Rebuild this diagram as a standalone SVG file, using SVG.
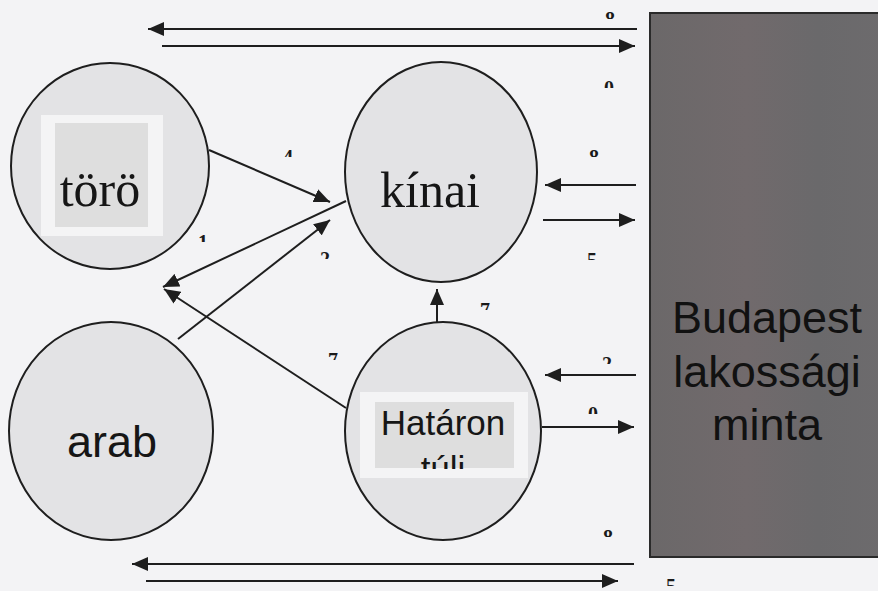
<svg xmlns="http://www.w3.org/2000/svg" width="878" height="591" viewBox="0 0 878 591">
<style>
.node{fill:#e3e3e5;stroke:#1e1e1e;stroke-width:2}
.conn{stroke:#1e1e1e;stroke-width:2;fill:none}
.serif{font-family:"Liberation Serif","Times New Roman",serif;fill:#161616}
.sans{font-family:"Liberation Sans",Arial,sans-serif;fill:#161616}
.bp{font-family:"Liberation Sans",Arial,sans-serif;fill:#111;font-size:45px;text-anchor:middle}
.lbl{font-family:"Liberation Serif","Times New Roman",serif;font-size:20px;font-weight:bold;fill:#1a1a1a;text-anchor:middle}
</style>
<defs>
<marker id="ah" viewBox="0 0 16 14" markerWidth="16" markerHeight="14" refX="16" refY="7" orient="auto" markerUnits="userSpaceOnUse">
<path d="M0,0 L16,7 L0,14 z" fill="#1e1e1e"/>
</marker>
<linearGradient id="bp" x1="0" y1="0" x2="1" y2="0">
<stop offset="0" stop-color="#6b6869"/>
<stop offset="0.4" stop-color="#716a6c"/>
<stop offset="0.7" stop-color="#6a696b"/>
<stop offset="1" stop-color="#6d6b6d"/>
</linearGradient>
<clipPath id="c1" clipPathUnits="userSpaceOnUse"><rect x="600" y="12" width="20" height="7"/></clipPath>
<clipPath id="c2" clipPathUnits="userSpaceOnUse"><rect x="599" y="81" width="20" height="7"/></clipPath>
<clipPath id="c3" clipPathUnits="userSpaceOnUse"><rect x="584" y="150" width="20" height="7"/></clipPath>
<clipPath id="c4" clipPathUnits="userSpaceOnUse"><rect x="582" y="253" width="20" height="7"/></clipPath>
<clipPath id="c5" clipPathUnits="userSpaceOnUse"><rect x="278" y="150" width="20" height="7"/></clipPath>
<clipPath id="c6" clipPathUnits="userSpaceOnUse"><rect x="193" y="235" width="20" height="7"/></clipPath>
<clipPath id="c7" clipPathUnits="userSpaceOnUse"><rect x="315" y="252" width="20" height="7"/></clipPath>
<clipPath id="c8" clipPathUnits="userSpaceOnUse"><rect x="475" y="303" width="20" height="7"/></clipPath>
<clipPath id="c9" clipPathUnits="userSpaceOnUse"><rect x="323" y="353" width="20" height="7"/></clipPath>
<clipPath id="c10" clipPathUnits="userSpaceOnUse"><rect x="597" y="357" width="20" height="7"/></clipPath>
<clipPath id="c11" clipPathUnits="userSpaceOnUse"><rect x="583" y="407" width="20" height="7"/></clipPath>
<clipPath id="c12" clipPathUnits="userSpaceOnUse"><rect x="598" y="530" width="20" height="7"/></clipPath>
<clipPath id="c13" clipPathUnits="userSpaceOnUse"><rect x="661" y="579" width="20" height="7"/></clipPath>
<clipPath id="ct" clipPathUnits="userSpaceOnUse"><rect x="375" y="402" width="139" height="67"/></clipPath>
</defs>
<rect x="0" y="0" width="878" height="591" fill="#f3f3f5"/>

<g id="budapest">
<rect x="650" y="13" width="240" height="544" fill="url(#bp)" stroke="#2a2a2a" stroke-width="2"/>
<text class="bp" x="767" y="333">Budapest</text>
<text class="bp" x="767" y="387">lakossági</text>
<text class="bp" x="767" y="440">minta</text>
</g>

<g id="toro">
<ellipse class="node" cx="110" cy="166" rx="99" ry="103"/>
<rect x="41" y="115" width="122" height="121" fill="#f4f4f5"/>
<rect x="55" y="123" width="93" height="104" fill="#dedede"/>
<text class="serif" font-size="50" text-anchor="middle" x="100" y="206">törö</text>
</g>

<g id="kinai">
<ellipse class="node" cx="441" cy="172" rx="96" ry="110"/>
<text class="serif" font-size="50" text-anchor="middle" x="430" y="207">kínai</text>
</g>

<g id="arab">
<ellipse class="node" cx="111" cy="431" rx="102" ry="109"/>
<text class="sans" font-size="45" text-anchor="middle" x="112" y="457">arab</text>
</g>

<g id="hataron">
<ellipse class="node" cx="443" cy="431" rx="98" ry="109"/>
<rect x="360" y="392" width="168" height="86" fill="#f4f4f5"/>
<rect x="375" y="402" width="139" height="66" fill="#dedede"/>
<text class="sans" font-size="35" text-anchor="middle" x="443" y="435">Határon</text>
<text class="sans" font-size="35" text-anchor="middle" x="443" y="481" clip-path="url(#ct)">túli</text>
</g>

<g id="connectors">
<line class="conn" x1="637" y1="29" x2="148" y2="29" marker-end="url(#ah)"/>
<line class="conn" x1="162" y1="46" x2="635" y2="46" marker-end="url(#ah)"/>
<line class="conn" x1="636" y1="185" x2="545" y2="185" marker-end="url(#ah)"/>
<line class="conn" x1="543" y1="220" x2="635" y2="220" marker-end="url(#ah)"/>
<line class="conn" x1="209" y1="150" x2="330" y2="202" marker-end="url(#ah)"/>
<line class="conn" x1="346" y1="201" x2="163" y2="287" marker-end="url(#ah)"/>
<line class="conn" x1="178" y1="339" x2="330" y2="220" marker-end="url(#ah)"/>
<line class="conn" x1="346" y1="408" x2="164" y2="289" marker-end="url(#ah)"/>
<line class="conn" x1="437" y1="323" x2="437" y2="289" marker-end="url(#ah)"/>
<line class="conn" x1="636" y1="375" x2="545" y2="375" marker-end="url(#ah)"/>
<line class="conn" x1="542" y1="427" x2="634" y2="427" marker-end="url(#ah)"/>
<line class="conn" x1="634" y1="564" x2="132" y2="564" marker-end="url(#ah)"/>
<line class="conn" x1="146" y1="581" x2="618" y2="581" marker-end="url(#ah)"/>
</g>

<g id="labels">
<text class="lbl" x="610" y="26" clip-path="url(#c1)">8</text>
<text class="lbl" x="609" y="95" clip-path="url(#c2)">0</text>
<text class="lbl" x="594" y="164" clip-path="url(#c3)">8</text>
<text class="lbl" x="592" y="267" clip-path="url(#c4)">5</text>
<text class="lbl" x="288" y="164" clip-path="url(#c5)">4</text>
<text class="lbl" x="203" y="249" clip-path="url(#c6)">1</text>
<text class="lbl" x="325" y="266" clip-path="url(#c7)">2</text>
<text class="lbl" x="485" y="317" clip-path="url(#c8)">7</text>
<text class="lbl" x="333" y="367" clip-path="url(#c9)">7</text>
<text class="lbl" x="607" y="371" clip-path="url(#c10)">2</text>
<text class="lbl" x="593" y="421" clip-path="url(#c11)">0</text>
<text class="lbl" x="608" y="544" clip-path="url(#c12)">8</text>
<text class="lbl" x="671" y="593" clip-path="url(#c13)">5</text>
</g>
</svg>
